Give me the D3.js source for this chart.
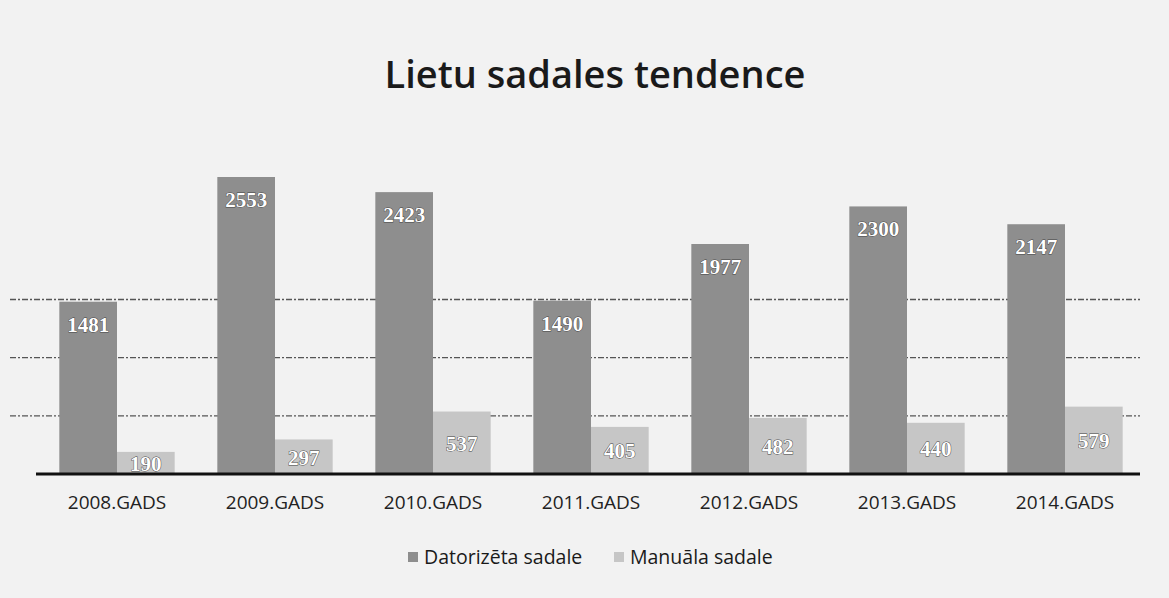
<!DOCTYPE html>
<html>
<head>
<meta charset="utf-8">
<script src="https://cdn.jsdelivr.net/npm/d3@7"></script>
<style>
  body { margin: 0; background: #f2f2f2; }
  svg { display: block; }
</style>
</head>
<body>
<script>
// values
const years = ["2008.GADS", "2009.GADS", "2010.GADS", "2011.GADS", "2012.GADS", "2013.GADS", "2014.GADS"];
const datorizeta = [1481, 2553, 2423, 1490, 1977, 2300, 2147];
const manuala = [190, 297, 537, 405, 482, 440, 579];
const seriesNames = ["Datorizēta sadale", "Manuāla sadale"];
const gridTicks = [500, 1000, 1500];

const width = 1169, height = 598;
const colors = ["#8e8e8e", "#c6c6c6"];

const svg = d3.select("body").append("svg")
    .attr("width", width)
    .attr("height", height);

// title
svg.append("text")
    .attr("x", 595)
    .attr("y", 88)
    .attr("text-anchor", "middle")
    .attr("font-family", "Open Sans, sans-serif")
    .attr("font-weight", 600)
    .attr("font-size", 38)
    .attr("fill", "#1a1a1a")
    .text("Lietu sadales tendence");

const x = d3.scaleBand()
    .domain(years)
    .range([38, 1144])
    .paddingInner(0.27)
    .paddingOuter(0.135);

const x1 = d3.scaleBand()
    .domain(seriesNames)
    .range([0, x.bandwidth()]);

const y = d3.scaleLinear()
    .domain([0, 3000])
    .range([474, 125]);

// gridlines
svg.append("g")
    .selectAll("line")
    .data(gridTicks)
    .join("line")
    .attr("x1", 10)
    .attr("x2", 1140)
    .attr("y1", d => y(d))
    .attr("y2", d => y(d))
    .attr("stroke", "#555")
    .attr("stroke-width", 1.3)
    .attr("stroke-dasharray", "6,2,2,2");

const rows = years.map((yr, i) => ({ yr, vals: [datorizeta[i], manuala[i]] }));

const groups = svg.append("g")
    .selectAll("g")
    .data(rows)
    .join("g")
    .attr("transform", d => `translate(${x(d.yr)},0)`);

groups.selectAll("rect")
    .data(d => d.vals.map((v, k) => ({ v, k })))
    .join("rect")
    .attr("x", d => x1(seriesNames[d.k]))
    .attr("width", x1.bandwidth())
    .attr("y", d => y(d.v))
    .attr("height", d => y(0) - y(d.v))
    .attr("fill", d => colors[d.k]);

// data labels inside bar tops
groups.selectAll("text")
    .data(d => d.vals.map((v, k) => ({ v, k })))
    .join("text")
    .attr("x", d => x1(seriesNames[d.k]) + x1.bandwidth() / 2)
    .attr("y", d => d.v > 1000 ? y(d.v) + 30 : (y(d.v) + y(0)) / 2 + 8)
    .attr("text-anchor", "middle")
    .attr("font-family", "Liberation Serif, serif")
    .attr("font-weight", "bold")
    .attr("font-size", 21)
    .attr("fill", "#fff")
    .attr("stroke", "#444")
    .attr("stroke-width", 0.9)
    .attr("paint-order", "stroke")
    .text(d => d.v);

// baseline
svg.append("line")
    .attr("x1", 36)
    .attr("x2", 1140)
    .attr("y1", y(0))
    .attr("y2", y(0))
    .attr("stroke", "#111")
    .attr("stroke-width", 3);

// category axis labels
const xAxis = svg.append("g")
    .attr("transform", `translate(0,${y(0)})`)
    .call(d3.axisBottom(x).tickSize(0).tickPadding(22));
xAxis.select(".domain").remove();
xAxis.selectAll("text")
    .attr("font-family", "Open Sans, sans-serif")
    .attr("font-size", 19)
    .attr("fill", "#222");

// legend
const legend = svg.append("g")
    .selectAll("g")
    .data(seriesNames)
    .join("g")
    .attr("transform", (d, i) => `translate(${[408, 614][i]},558)`);

legend.append("rect")
    .attr("x", 0)
    .attr("y", -6)
    .attr("width", 10)
    .attr("height", 10)
    .attr("fill", (d, i) => colors[i]);

legend.append("text")
    .attr("x", 16)
    .attr("y", 6)
    .attr("font-family", "Open Sans, sans-serif")
    .attr("font-size", 19.5)
    .attr("fill", "#1a1a1a")
    .text(d => d);
</script>
</body>
</html>
